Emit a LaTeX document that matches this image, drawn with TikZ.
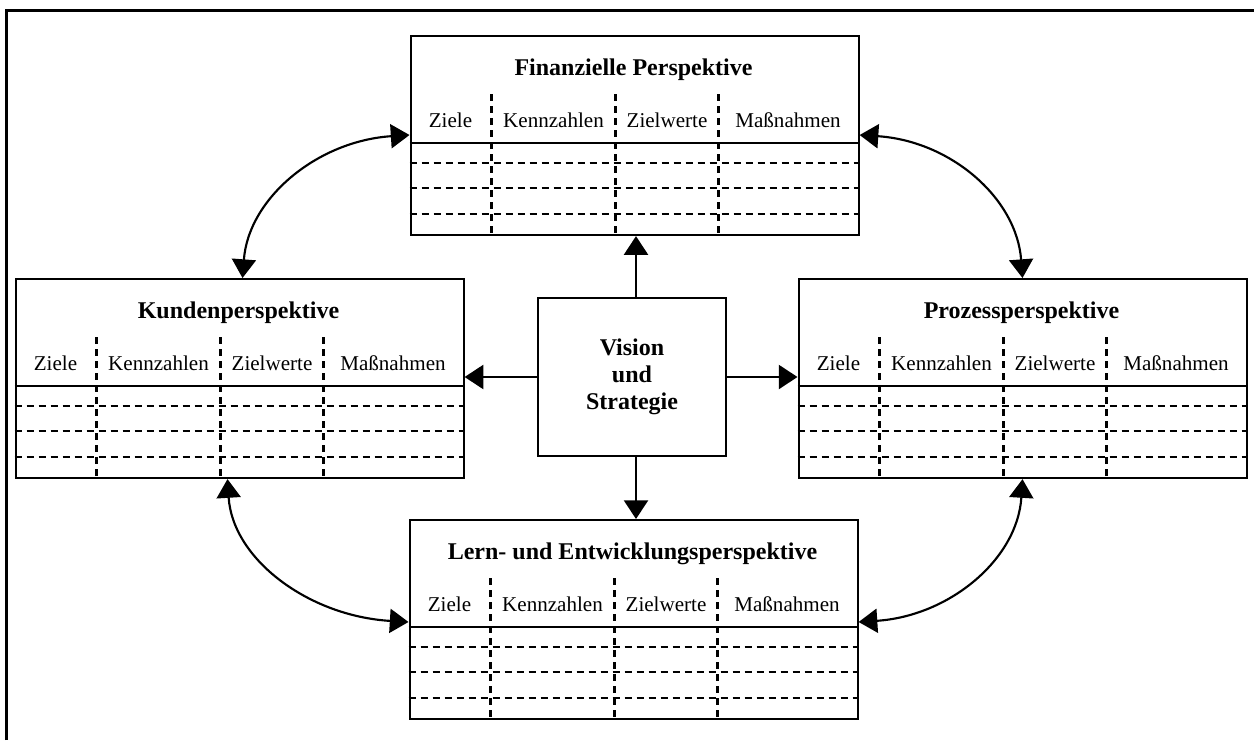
\documentclass[tikz,border=0pt]{standalone}
\usepackage{fontspec}
\setmainfont{Liberation Serif}
\usetikzlibrary{arrows.meta,calc}
\tikzset{
 box/.style={draw, line width=1.6pt, minimum width=336pt, minimum height=149.25pt, inner sep=0pt, anchor=north west},
 ttl/.style={font=\fontsize{18}{20}\selectfont\bfseries, anchor=base, inner sep=0pt},
 col/.style={font=\fontsize{15.8}{18}\selectfont, anchor=base, inner sep=0pt},
 grid/.style={line width=1.6pt, dash pattern=on 5.5pt off 3.5pt},
 hline/.style={line width=1.6pt},
 arr/.style={line width=1.6pt, -{Triangle[width=18pt,length=14pt]}},
 darr/.style={line width=1.6pt, {Triangle[width=18pt,length=14pt]}-{Triangle[width=18pt,length=14pt]}},
}
\newcommand\persp[4]{%
 \node[box] (#1) at (#2,#3) {};
 \node[ttl] (#1-t) at ($(#1.north west)+(224,40)$) {#4};
 \draw[hline] ($(#1.north west)+(0,108)$) -- ($(#1.north east)+(0,108)$);
 \foreach \yy in {128,153,179} \draw[grid] ($(#1.north west)+(0,\yy)$) -- ($(#1.north east)+(0,\yy)$);
 \foreach \xx in {82,206,309} \draw[grid] ($(#1.north west)+(\xx,59)$) -- ($(#1.south west)+(\xx,0)$);
 \node[col] (#1-a) at ($(#1.north west)+(41,92)$) {Ziele};
 \node[col] (#1-b) at ($(#1.north west)+(144,92)$) {Kennzahlen};
 \node[col] (#1-c) at ($(#1.north west)+(257.5,92)$) {Zielwerte};
 \node[col] (#1-d) at ($(#1.north west)+(378.5,92)$) {Maßnahmen};
}
\begin{document}
\begin{tikzpicture}[x=0.75pt,y=-0.75pt]
\useasboundingbox (0,0) rectangle (1254,740);
\draw[line width=1.6pt] (6.5,740) -- (6.5,10.5) -- (1254,10.5);
\persp{fin}{409.5}{35}{Finanzielle Perspektive}
\persp{kund}{14.5}{278}{Kundenperspektive}
\persp{proz}{797.5}{278}{Prozessperspektive}
\persp{lern}{408.5}{519}{Lern- und Entwicklungsperspektive}
\node[draw, line width=1.6pt, minimum width=141pt, minimum height=118.5pt, align=center,
  font=\fontsize{18}{20.3}\selectfont\bfseries] (vis) at (632,377) {Vision\\und\\Strategie};
\coordinate (vn) at ($(vis.north)+(4,0)$);
\coordinate (vs) at ($(vis.south)+(4,0)$);
\draw[arr] (vn) -- (vn |- fin.south);
\draw[arr] (vs) -- (vs |- lern.north);
\draw[arr] (vis.west) -- (vis.west -| kund.east);
\draw[arr] (vis.east) -- (vis.east -| proz.west);
\coordinate (k1) at ($(kund.north west)+(228,0)$);
\coordinate (f1) at ($(fin.north west)+(0,100)$);
\coordinate (f2) at ($(fin.north east)+(0,100)$);
\coordinate (p1) at ($(proz.north west)+(225,0)$);
\coordinate (k2) at ($(kund.south west)+(213,0)$);
\coordinate (l1) at ($(lern.north west)+(0,103)$);
\coordinate (l2) at ($(lern.north east)+(0,103)$);
\coordinate (p2) at ($(proz.south west)+(225,0)$);
\draw[darr] (k1) .. controls +(6,-80) and +(-92,6) .. (f1);
\draw[darr] (f2) .. controls +(91,6) and +(-6,-80) .. (p1);
\draw[darr] (k2) .. controls +(5,80) and +(-100,-6) .. (l1);
\draw[darr] (p2) .. controls +(-5,80) and +(91,-6) .. (l2);
\end{tikzpicture}
\end{document}
